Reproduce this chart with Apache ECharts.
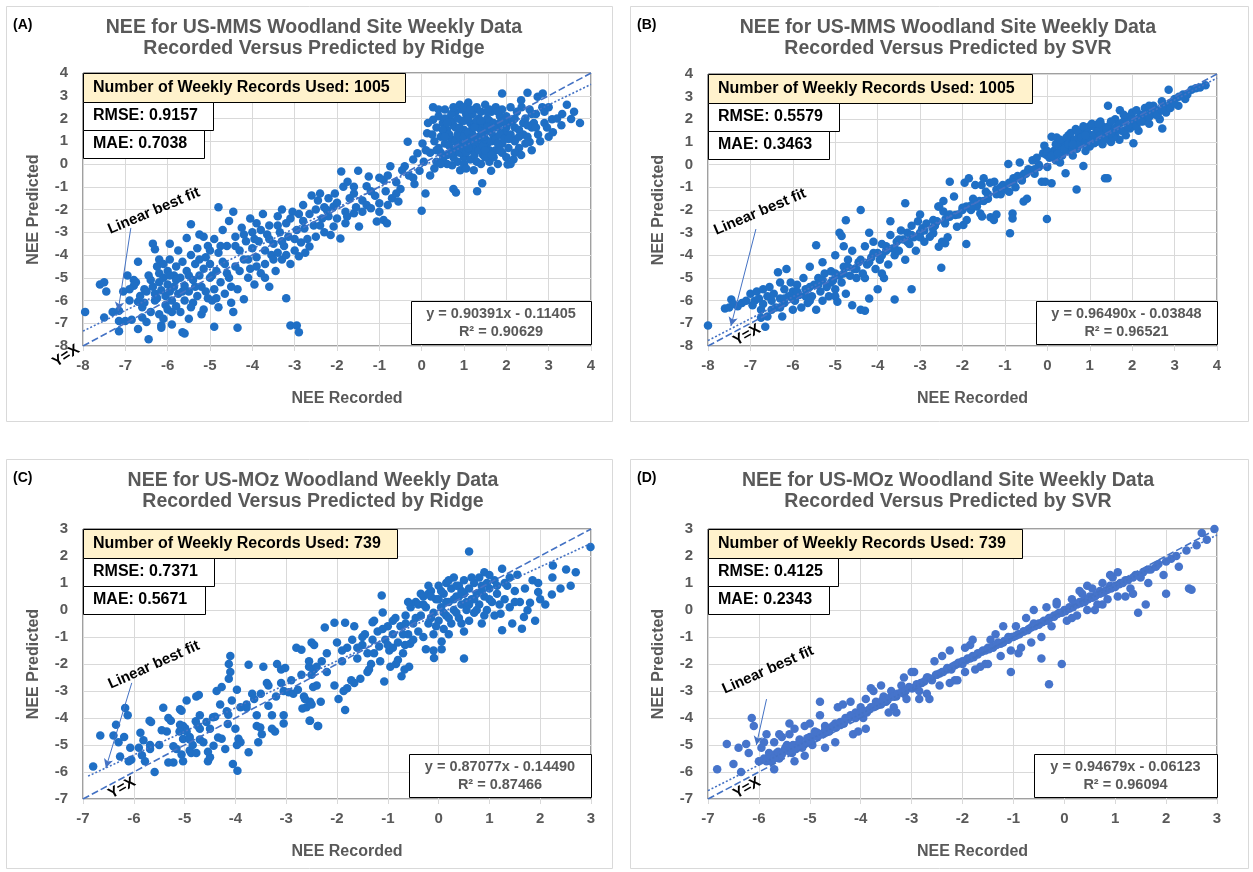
<!DOCTYPE html>
<html>
<head>
<meta charset="utf-8">
<title>NEE Recorded vs Predicted</title>
<script src="https://cdn.jsdelivr.net/npm/echarts@6/dist/echarts.min.js"></script>
<style>
  html, body { margin: 0; padding: 0; background: #fff; }
  #chart { width: 1253px; height: 872px; }
</style>
</head>
<body>
<div id="chart"></div>
<script>
// ---- data: [NEE recorded, NEE predicted] ----
const pointsA = [
  [-7.95,-6.5],[-7.6,-5.3],[-7.5,-5.2],[-7.45,-5.6],[-7.5,-6.75],[-7.3,-6.5],[-7.15,-6.45],[-7.15,-6.9],[-7.15,-7.35],[-7.05,-5.6],
  [-7.0,-6.9],[-6.95,-4.9],[-6.9,-6.0],[-6.85,-6.85],[-6.8,-5.1],[-6.75,-5.2],[-6.8,-5.35],[-6.7,-4.3],[-6.7,-6.05],[-6.7,-7.25],
  [-6.6,-6.75],[-6.55,-5.5],[-6.5,-5.6],[-6.45,-7.7],[-6.6,-6.3],[-6.55,-6.1],[-6.5,-6.95],[-6.35,-3.5],[-6.3,-3.75],[-6.4,-5.1],
  [-6.35,-5.4],[-6.3,-5.7],[-6.3,-6.0],[-6.25,-4.5],[-6.2,-4.2],[-6.2,-4.8],[-6.2,-5.2],[-6.2,-6.6],[-6.15,-7.1],[-6.15,-7.2],
  [-6.15,-5.55],[-6.1,-4.4],[-6.1,-5.0],[-6.05,-5.8],[-6.05,-6.2],[-6.0,-4.7],[-6.0,-5.3],[-6.0,-6.4],[-5.95,-3.5],[-5.95,-4.2],
  [-5.95,-5.6],[-5.9,-7.05],[-5.9,-6.0],[-5.85,-4.9],[-5.85,-5.4],[-5.8,-4.5],[-5.8,-6.25],[-5.75,-5.7],[-5.75,-3.8],[-5.7,-5.0],
  [-5.7,-6.5],[-5.65,-7.4],[-5.6,-7.45],[-5.65,-4.3],[-5.6,-5.35],[-5.6,-6.0],[-5.55,-3.25],[-5.55,-4.7],[-5.5,-5.6],[-5.5,-6.8],
  [-5.45,-2.65],[-5.45,-4.0],[-5.4,-5.1],[-5.4,-6.1],[-5.35,-4.4],[-5.3,-3.7],[-5.3,-5.8],[-5.25,-3.1],[-5.25,-4.9],[-5.2,-6.6],
  [-5.2,-5.4],[-5.15,-3.2],[-5.15,-6.4],[-5.15,-4.6],[-5.1,-4.1],[-5.05,-5.9],[-5.0,-3.8],[-5.0,-5.0],[-5.0,-4.4],[-4.95,-6.0],
  [-4.9,-7.15],[-4.9,-3.3],[-4.9,-5.5],[-4.85,-4.7],[-4.8,-1.9],[-4.8,-3.9],[-4.8,-6.3],[-4.75,-5.2],[-4.7,-4.3],[-4.7,-2.9],
  [-4.65,-5.7],[-4.6,-3.6],[-4.6,-4.8],[-4.55,-2.5],[-4.55,-5.0],[-4.5,-6.1],[-4.45,-2.1],[-4.45,-6.5],[-4.4,-3.2],[-4.4,-4.5],
  [-4.35,-7.2],[-4.35,-5.5],[-4.3,-3.8],[-4.25,-2.8],[-4.2,-5.95],[-4.2,-4.2],[-4.15,-3.4],[-4.1,-5.0],[-4.05,-2.4],[-4.05,-4.6],
  [-4.0,-3.0],[-4.0,-3.7],[-3.95,-5.3],[-3.9,-2.6],[-3.9,-4.1],[-3.85,-3.4],[-3.8,-4.8],[-3.75,-2.2],[-3.7,-3.8],[-3.7,-4.4],
  [-3.65,-3.1],[-3.6,-5.4],[-3.6,-2.7],[-3.55,-4.0],[-3.5,-3.5],[-3.45,-4.7],[-3.4,-2.3],[-3.4,-3.9],[-3.35,-3.0],[-3.3,-2.0],
  [-3.3,-4.2],[-3.25,-3.6],[-3.2,-5.9],[-3.2,-2.6],[-3.15,-3.2],[-3.1,-7.1],[-3.1,-4.4],[-3.05,-2.1],[-3.0,-3.8],[-2.95,-7.1],
  [-2.95,-2.9],[-2.9,-7.4],[-2.9,-4.05],[-2.85,-3.45],[-2.8,-1.8],[-2.8,-2.5],[-2.75,-3.9],[-2.77,-2.83],[-2.65,-2.2],[-2.65,-3.63],
  [-2.6,-1.38],[-2.55,-2.7],[-2.5,-3.2],[-2.45,-1.6],[-2.4,-1.3],[-2.35,-2.4],[-2.3,-1.9],[-2.3,-3.0],[-2.24,-2.02],[-2.2,-1.5],
  [-2.15,-3.12],[-2.08,-2.75],[-2.08,-1.87],[-2.05,-1.3],[-2.0,-2.4],[-1.92,-3.27],[-1.9,-0.33],[-1.85,-1.0],[-1.8,-2.1],[-1.76,-2.31],
  [-1.75,-0.78],[-1.7,-1.5],[-1.6,-1.3],[-1.6,-2.17],[-1.55,-1.9],[-1.5,-0.3],[-1.48,-2.75],[-1.4,-1.6],[-1.3,-0.98],[-1.3,-1.8],
  [-1.25,-0.55],[-1.2,-1.95],[-1.1,-1.4],[-1.06,-2.53],[-1.0,-1.73],[-1.0,-0.6],[-0.9,-2.46],[-0.9,-0.7],[-0.85,-1.2],[-0.82,-2.6],
  [-0.8,-1.8],[-0.74,-0.1],[-0.7,-1.5],[-0.6,-0.8],[-0.55,-1.65],[-0.5,-1.1],[-0.46,-0.27],[-0.33,0.98],[-0.3,-0.5],[-0.2,0.2],
  [-0.17,-0.88],[-0.1,0.47],[-0.05,-0.3],[0.0,-2.05],[0.02,0.9],[0.05,0.1],[0.09,-1.3],[0.13,1.35],[0.27,2.5],[0.27,1.95],
  [0.2,0.5],[0.3,1.0],[0.3,-0.2],[0.35,1.6],[0.4,0.7],[0.4,2.1],[0.45,1.2],[0.5,0.2],[0.5,1.8],[0.55,0.9],
  [0.55,2.4],[0.6,1.5],[0.6,0.4],[0.65,2.0],[0.7,1.1],[0.72,-0.05],[0.75,-1.1],[0.75,1.7],[0.8,0.6],[0.8,2.3],
  [0.81,-1.25],[0.85,1.3],[0.9,0.9],[0.91,-0.27],[0.9,2.6],[0.95,1.9],[1.0,0.3],[1.0,1.5],[1.05,2.2],[1.1,1.0],
  [1.1,2.7],[1.15,0.6],[1.15,1.8],[1.2,1.3],[1.23,-0.27],[1.25,2.4],[1.3,0.8],[1.31,-1.2],[1.35,1.6],[1.35,2.0],
  [1.4,1.1],[1.43,-0.85],[1.45,0.4],[1.5,2.6],[1.5,1.4],[1.55,0.9],[1.6,0.1],[1.6,1.9],[1.64,-0.3],[1.65,2.3],
  [1.7,1.2],[1.75,0.6],[1.8,1.6],[1.85,2.1],[1.9,3.1],[1.9,0.9],[1.95,1.4],[2.0,0.3],[2.03,-0.02],[2.05,1.8],
  [2.1,2.5],[2.15,1.1],[2.17,0.2],[2.2,1.6],[2.3,0.7],[2.36,2.5],[2.4,1.3],[2.45,2.0],[2.5,3.13],[2.55,0.97],
  [2.6,1.6],[2.7,2.2],[2.74,2.96],[2.75,1.3],[2.86,3.1],[2.9,1.8],[2.96,1.6],[3.08,1.97],[3.2,2.0],[3.32,2.2],
  [3.43,2.6],[3.53,1.98],[3.74,1.8],[0.35,0.1],[0.45,0.5],[0.5,1.5],[0.55,2.0],[0.6,0.0],[0.65,0.8],[0.65,1.3],
  [0.7,1.9],[0.7,2.2],[0.75,0.3],[0.8,1.0],[0.8,1.6],[0.85,0.1],[0.85,2.0],[0.9,0.5],[0.9,1.2],[0.95,0.7],
  [0.95,2.4],[1.0,0.0],[1.0,1.2],[1.0,1.9],[1.05,0.5],[1.05,0.9],[1.1,1.4],[1.1,2.0],[1.15,0.2],[1.15,1.1],
  [1.2,0.7],[1.2,1.6],[1.2,2.2],[1.25,0.4],[1.25,1.0],[1.3,1.9],[1.3,2.5],[1.35,0.6],[1.35,1.2],[1.4,0.0],
  [1.4,1.5],[1.4,2.3],[1.45,0.8],[1.45,1.8],[1.5,0.3],[1.5,1.1],[1.55,2.0],[1.55,1.6],[1.6,0.6],[1.6,2.4],
  [1.65,1.0],[1.65,1.4],[1.7,0.3],[1.7,1.8],[1.75,2.5],[1.75,1.1],[1.8,0.0],[1.8,0.9],[1.85,1.3],[1.85,1.8],
  [1.9,0.5],[1.9,2.4],[1.95,1.1],[2.0,1.6],[2.0,2.1],[2.05,0.7],[2.1,1.3],[2.15,1.9],[2.2,0.5],[2.2,1.0],
  [2.25,2.3],[2.3,1.5],[2.35,0.4],[2.4,1.8],[2.45,0.9],[2.5,1.2],[2.55,2.4],[2.6,0.6],[2.65,1.8],[2.8,1.0],
  [2.85,2.5],[3.0,1.2],[-6.9,-5.5],[-6.65,-5.8],[-6.45,-4.9],[-6.4,-6.5],[-6.25,-5.9],[-6.1,-6.8],[-5.95,-4.9],[-5.9,-6.5],
  [-5.8,-5.1],[-5.65,-5.6],[-5.5,-4.9],[-5.45,-6.3],[-5.35,-5.4],[-5.25,-4.2],[-5.1,-5.6],[-5.05,-3.6],[-4.95,-4.9],[-4.85,-5.9],
  [-4.75,-3.6],[-4.65,-4.4],[-4.5,-5.4],[-4.4,-3.6],[-4.3,-4.7],[-4.2,-3.1],[-4.1,-4.2],[-3.95,-3.3],[-3.9,-4.5],[-3.8,-2.9],
  [-3.7,-5.0],[-3.6,-3.3],[-3.5,-4.2],[-3.4,-2.7],[-3.3,-3.4],[-3.2,-4.0],[-3.1,-2.4],[-3.0,-3.3],[-2.9,-2.2],[-2.7,-3.3],
  [-2.5,-2.0],[-2.4,-2.7],[-2.2,-2.3],[-2.0,-1.7],[-1.8,-2.6],[-1.6,-1.0],[-1.4,-2.1],[-1.2,-1.2],[-1.0,-2.1],[-0.8,-0.5],
  [-0.6,-1.3],[-0.4,-0.1],[-0.2,-0.6],[0.1,0.6],[0.15,1.8],[0.2,-0.5],[0.25,1.3],[0.35,0.6],[0.4,2.4],[0.45,0.0],
  [0.55,1.2],[0.6,1.8],[0.7,0.5],[0.75,2.5],[0.85,0.8],[0.9,1.6],[1.0,2.5],[1.05,-0.2],[1.1,0.7],[1.15,2.4],
  [1.25,1.6],[1.3,0.1],[1.4,1.9],[1.45,1.2],[1.5,0.6],[1.55,2.3],[1.65,0.4],[1.7,1.6],[1.8,2.3],[1.85,0.6],
  [1.95,1.9],[2.05,1.1],[2.1,0.0],[2.2,2.0],[2.3,1.2],[2.35,2.8],[2.5,1.7],[2.6,2.2],[2.7,1.6],[2.9,2.3],
  [3.0,2.5],[3.1,1.4],[3.3,1.7],[3.6,2.3]
];

const pointsB = [
  [-8.0,-7.1],[-7.6,-6.35],[-7.5,-6.3],[-7.45,-5.95],[-7.4,-6.15],[-7.3,-6.25],[-7.2,-6.1],[-7.1,-6.0],[-7.0,-5.7],[-6.95,-6.2],
  [-6.9,-6.0],[-6.85,-5.6],[-6.8,-5.9],[-6.75,-6.75],[-6.75,-6.4],[-6.7,-5.5],[-6.7,-6.15],[-6.65,-7.15],[-6.6,-5.8],[-6.6,-6.7],
  [-6.55,-5.4],[-6.5,-6.0],[-6.45,-5.7],[-6.4,-6.3],[-6.35,-4.75],[-6.3,-5.2],[-6.3,-5.9],[-6.25,-6.7],[-6.2,-5.5],[-6.2,-6.1],
  [-6.15,-4.6],[-6.1,-5.8],[-6.05,-5.2],[-6.0,-6.4],[-6.0,-5.6],[-5.95,-6.0],[-5.9,-5.3],[-5.85,-5.75],[-5.8,-6.3],[-5.75,-5.0],
  [-5.7,-5.5],[-5.65,-6.1],[-5.6,-4.5],[-5.55,-5.8],[-5.5,-5.3],[-5.45,-3.55],[-5.45,-6.4],[-5.4,-5.0],[-5.35,-5.6],[-5.3,-4.3],
  [-5.3,-6.0],[-5.25,-4.8],[-5.2,-5.4],[-5.15,-5.8],[-5.1,-4.7],[-5.05,-5.1],[-5.0,-4.0],[-5.0,-5.5],[-4.95,-6.05],[-4.9,-3.0],
  [-4.9,-4.9],[-4.85,-3.15],[-4.85,-5.2],[-4.8,-4.5],[-4.75,-2.45],[-4.75,-5.7],[-4.7,-4.2],[-4.65,-4.9],[-4.6,-6.2],[-4.6,-3.8],
  [-4.55,-4.6],[-4.5,-5.0],[-4.45,-4.3],[-4.4,-2.0],[-4.4,-6.4],[-4.35,-4.8],[-4.3,-6.45],[-4.3,-3.6],[-4.25,-4.4],[-4.2,-5.9],
  [-4.15,-4.1],[-4.1,-3.4],[-4.05,-4.6],[-4.0,-5.5],[-4.0,-3.9],[-3.95,-4.2],[-3.9,-3.5],[-3.85,-5.0],[-3.8,-3.8],[-3.75,-4.4],
  [-3.7,-3.1],[-3.65,-3.7],[-3.6,-5.95],[-3.6,-4.0],[-3.55,-3.4],[-3.5,-3.8],[-3.45,-2.9],[-3.4,-3.3],[-3.35,-1.7],[-3.35,-4.2],
  [-3.3,-3.0],[-3.25,-3.5],[-3.2,-5.5],[-3.2,-2.7],[-3.15,-3.2],[-3.1,-3.8],[-3.05,-2.5],[-3.0,-3.0],[-2.95,-2.8],[-2.9,-3.4],
  [-2.85,-2.6],[-2.77,-3.18],[-2.69,-3.03],[-2.69,-2.44],[-2.65,-2.7],[-2.57,-1.85],[-2.56,-3.62],[-2.5,-4.55],[-2.48,-3.4],[-2.45,-2.07],
  [-2.41,-2.59],[-2.41,-3.47],[-2.35,-3.2],[-2.3,-0.75],[-2.3,-2.3],[-2.17,-2.22],[-2.13,-2.74],[-1.98,-2.66],[-1.95,-0.8],[-1.91,-3.5],
  [-1.91,-1.85],[-1.9,-2.44],[-1.85,-0.6],[-1.8,-2.0],[-1.75,-1.5],[-1.7,-0.9],[-1.7,-1.63],[-1.66,-1.85],[-1.58,-2.15],[-1.55,-0.9],
  [-1.54,-2.29],[-1.45,-1.2],[-1.4,-1.5],[-1.35,-0.8],[-1.34,-2.32],[-1.26,-2.44],[-1.25,-0.75],[-1.2,-1.1],[-1.1,-1.3],[-1.05,-0.9],
  [-1.0,-1.1],[-0.92,0.03],[-0.9,-0.8],[-0.88,-3.03],[-0.82,-2.15],[-0.82,-2.37],[-0.8,-0.6],[-0.75,-1.0],[-0.7,-0.5],[-0.65,0.1],
  [-0.6,-0.7],[-0.56,-1.63],[-0.55,-0.4],[-0.48,-1.5],[-0.45,-0.2],[-0.41,-0.23],[-0.35,0.2],[-0.3,-0.4],[-0.25,0.3],[-0.2,0.0],
  [-0.13,-0.75],[-0.1,0.5],[-0.07,0.84],[-0.05,-0.75],[-0.02,0.43],[-0.01,-2.4],[0.05,0.3],[0.1,1.23],[0.1,-0.82],[0.15,0.6],
  [0.22,1.2],[0.2,0.2],[0.3,0.8],[0.35,0.4],[0.43,-0.38],[0.4,1.0],[0.45,0.6],[0.5,1.3],[0.55,0.8],[0.6,0.4],
  [0.6,1.1],[0.67,1.57],[0.69,-1.1],[0.7,0.7],[0.75,1.3],[0.8,0.9],[0.85,-0.06],[0.85,1.5],[0.9,0.6],[0.95,1.1],
  [1.0,1.7],[1.0,0.8],[1.05,1.3],[1.1,0.95],[1.15,1.6],[1.2,1.1],[1.25,1.9],[1.3,0.9],[1.36,-0.6],[1.42,-0.6],
  [1.35,1.4],[1.43,2.6],[1.4,1.2],[1.45,1.7],[1.5,1.0],[1.55,1.5],[1.6,2.0],[1.6,1.3],[1.65,1.7],[1.71,2.4],
  [1.7,1.1],[1.75,1.5],[1.8,1.9],[1.85,1.3],[1.9,2.1],[1.95,1.6],[2.0,2.3],[2.03,0.95],[2.05,1.8],[2.1,2.0],
  [2.15,1.5],[2.2,2.2],[2.25,1.9],[2.3,2.5],[2.35,2.1],[2.4,1.8],[2.45,2.3],[2.5,2.6],[2.55,2.2],[2.6,2.4],
  [2.65,2.0],[2.71,1.6],[2.75,2.6],[2.8,2.3],[2.86,3.3],[2.9,2.7],[3.0,2.9],[3.09,2.6],[3.1,3.0],[3.2,3.1],
  [3.25,2.9],[3.4,3.3],[3.5,3.37],[3.6,3.4],[3.73,3.5],[0.0,0.6],[0.1,0.4],[0.2,0.9],[0.25,0.5],[0.3,1.1],
  [0.4,0.7],[0.45,1.2],[0.5,0.9],[0.55,1.4],[0.6,0.7],[0.65,1.1],[0.7,1.5],[0.75,0.9],[0.8,1.2],[0.85,1.7],
  [0.9,1.0],[0.95,1.4],[1.0,1.2],[1.05,1.8],[1.1,1.3],[1.15,1.0],[1.2,1.5],[1.25,1.3],[1.3,1.7],[1.35,1.1],
  [1.4,1.6],[1.5,1.9],[1.55,1.2],[1.6,1.6],[1.7,1.8],[1.8,1.5],[1.9,1.7],[2.0,2.0],[2.1,1.7],[2.2,1.9],
  [2.3,2.2],[2.4,2.1],[2.6,2.2],[2.7,2.4],[2.9,2.5],[-2.45,-1.6],[-2.55,-1.85],[-1.2,-2.2],[-1.6,-1.6],[-2.0,-2.0],
  [-6.5,-6.4],[-6.2,-5.9],[-5.9,-5.6],[-5.6,-5.4],[-5.3,-5.1],[-5.0,-4.8],[-4.7,-4.5],[-4.4,-4.2],[-4.1,-3.9],[-3.8,-3.6],
  [-3.5,-3.3],[-3.2,-3.1],[-2.9,-2.9],[-2.6,-2.5],[-2.3,-2.2],[-2.0,-1.9],[-1.7,-1.7],[-1.4,-1.3],[-1.1,-1.0],[-0.8,-0.8],
  [-0.5,-0.4],[-0.2,-0.1],[-6.3,-6.3],[-6.0,-5.9],[-5.7,-5.8],[-5.4,-5.3],[-5.1,-5.2],[-4.8,-4.8],[-4.5,-4.6],[-4.2,-4.3],
  [-3.9,-4.0],[-3.6,-3.7],[-3.3,-3.4],[-3.0,-3.2],[-2.7,-2.8],[-2.4,-2.4],[-2.1,-2.2],[-1.8,-1.8],[-1.5,-1.6],[-1.2,-1.3],
  [-0.9,-1.2],[-0.6,-0.6],[-0.3,-0.2],[0.0,-0.1],[-5.6,-6.0],[-5.0,-5.8],[-4.3,-5.0],[-3.9,-4.8],[-4.8,-3.6],[-4.2,-3.0],
  [-3.7,-2.5],[-3.0,-2.2],[-2.2,-1.4],[-1.5,-0.6],[0.3,0.1],[0.6,0.9],[0.9,1.3],[1.2,1.8],[1.5,1.4],[1.8,2.2],
  [2.1,2.4],[2.4,2.6],[2.7,2.8],[3.0,2.7],[3.3,3.1]
];

const pointsC = [
  [-6.8,-5.8],[-6.66,-4.65],[-6.4,-4.65],[-6.35,-4.25],[-6.17,-3.63],[-6.12,-3.9],[-6.19,-4.7],[-6.27,-5.43],[-6.07,-5.1],[-6.1,-5.6],
  [-6.05,-5.55],[-5.87,-4.55],[-5.81,-4.82],[-5.84,-5.38],[-5.78,-5.6],[-5.59,-6.0],[-5.69,-4.1],[-5.66,-4.15],[-5.68,-5.0],[-5.68,-5.15],
  [-5.42,-3.62],[-5.32,-4.0],[-5.35,-4.5],[-5.45,-4.45],[-5.22,-5.65],[-5.32,-5.65],[-5.27,-4.1],[-5.16,-5.15],[-5.22,-5.05],[-5.06,-3.73],
  [-5.09,-3.68],[-5.09,-4.25],[-5.03,-4.3],[-5.03,-4.78],[-4.96,-3.35],[-4.99,-4.38],[-4.96,-4.5],[-4.9,-4.7],[-5.06,-5.35],[-5.03,-5.6],
  [-4.9,-4.8],[-4.84,-5.0],[-4.9,-5.2],[-4.87,-5.3],[-4.77,-3.2],[-4.72,-3.15],[-4.78,-4.12],[-4.74,-4.3],[-4.7,-4.4],[-4.7,-4.8],
  [-4.63,-4.9],[-4.77,-5.3],[-4.54,-5.6],[-4.5,-5.45],[-4.54,-5.25],[-4.57,-4.15],[-4.5,-4.4],[-4.44,-3.97],[-4.4,-3.95],[-4.37,-3.0],
  [-4.27,-2.85],[-4.34,-4.72],[-4.43,-5.03],[-4.27,-4.77],[-4.2,-5.15],[-4.15,-4.22],[-4.14,-3.88],[-4.17,-3.75],[-4.1,-1.7],[-4.13,-2.0],
  [-4.1,-2.3],[-4.13,-2.55],[-4.07,-3.35],[-4.05,-5.7],[-3.96,-5.95],[-3.97,-2.95],[-4.0,-4.4],[-3.94,-4.77],[-3.9,-4.9],[-3.97,-5.0],
  [-3.78,-3.5],[-3.78,-3.62],[-3.74,-2.03],[-3.74,-5.27],[-3.67,-3.1],[-3.63,-3.3],[-3.58,-3.9],[-3.58,-4.3],[-3.51,-4.35],[-3.48,-4.6],
  [-3.55,-4.9],[-3.45,-2.1],[-3.38,-2.7],[-3.35,-2.8],[-3.35,-3.55],[-3.28,-3.9],[-3.28,-4.4],[-3.22,-4.5],[-3.18,-2.0],[-3.1,-2.2],
  [-3.05,-4.2],[-3.02,-2.15],[-3.05,-3.0],[-2.95,-3.05],[-3.05,-3.9],[-2.86,-3.1],[-2.77,-2.95],[-2.8,-1.4],[-2.7,-1.47],[-2.63,-3.3],
  [-2.6,-3.6],[-2.53,-3.4],[-2.53,-4.1],[-2.38,-4.3],[-2.5,-1.2],[-2.45,-1.3],[-2.55,-2.1],[-2.45,-2.2],[-2.4,-2.1],[0.5,-1.8],
  [-0.09,-1.78],[-0.25,-1.45],[0.06,-1.45],[0.06,-1.17],[-0.58,-2.1],[-0.67,-2.2],[-0.73,-2.45],[-0.84,-2.0],[-0.8,-1.85],[-1.07,-2.65],
  [-1.4,-2.3],[-1.37,-2.2],[-1.54,-2.55],[-1.66,-2.7],[-1.72,-2.6],[-1.8,-2.9],[-1.87,-3.0],[-2.05,-2.8],[-1.97,-3.3],[-1.84,-3.7],
  [-2.5,-3.5],[-2.54,-4.1],[-2.37,-4.3],[-2.32,-3.4],[-2.65,-3.2],[-2.68,-3.65],[-2.4,-2.8],[-2.47,-2.85],[-2.5,-2.4],[-2.55,-1.9],
  [-1.33,-2.0],[-1.27,-1.6],[-1.17,-1.35],[-0.97,-1.5],[-0.9,-1.4],[-0.56,-1.25],[-0.66,-1.3],[-0.1,-1.5],[-1.12,0.54],[-1.1,-0.09],
  [-2.05,-0.47],[-2.24,-0.65],[-1.84,-0.47],[-1.66,-0.6],[-1.3,-0.45],[-1.27,-0.4],[-2.2,-1.6],[-2.0,-1.2],[-1.9,-1.9],[-1.8,-1.4],
  [-1.7,-1.1],[-1.6,-1.8],[-1.5,-1.3],[-1.45,-0.9],[-1.4,-1.6],[-1.3,-1.1],[-1.2,-0.8],[-1.15,-1.9],[-1.05,-1.1],[-1.0,-0.6],
  [-0.95,-2.1],[-0.9,-0.9],[-0.85,-0.3],[-0.8,-1.2],[-0.75,-0.6],[-0.7,-1.6],[-0.65,-0.2],[-0.6,-0.9],[-0.55,0.1],[-0.5,-0.5],
  [-0.5,-1.1],[-0.45,0.3],[-0.4,-0.8],[-0.35,-0.2],[-0.3,0.5],[-0.3,-1.0],[-0.25,0.1],[-0.2,-0.5],[-0.15,0.7],[-0.1,-0.1],
  [-0.1,-0.9],[-0.05,0.4],[0.0,-0.4],[0.0,0.9],[0.05,0.1],[0.1,-0.7],[0.1,0.6],[0.15,1.0],[0.15,-0.2],[0.2,0.3],
  [0.25,-0.5],[0.25,0.8],[0.3,0.0],[0.3,1.2],[0.35,0.5],[0.4,-0.3],[0.4,0.9],[0.45,0.2],[0.5,-0.8],[0.5,0.6],
  [0.5,1.1],[0.55,0.0],[0.6,2.17],[0.6,0.8],[0.6,-0.4],[0.65,0.4],[0.7,1.0],[0.7,-0.1],[0.75,0.6],[0.8,0.2],
  [0.8,1.2],[0.85,-0.5],[0.9,1.4],[0.9,0.5],[0.95,0.0],[1.0,0.8],[1.05,0.3],[1.1,1.1],[1.1,-0.2],[1.15,0.6],
  [1.22,-0.14],[1.25,1.53],[1.25,-0.75],[1.3,0.4],[1.35,0.9],[1.4,0.1],[1.5,0.7],[1.55,1.31],[1.6,0.3],[1.64,-0.69],
  [1.68,-0.26],[1.75,-0.01],[1.8,0.27],[1.85,1.1],[1.96,1.0],[1.96,0.67],[2.0,0.4],[2.1,0.2],[2.23,0.57],[2.24,1.2],
  [2.25,1.65],[2.51,1.5],[2.99,2.33],[2.7,1.4],[2.6,0.9],[2.4,0.8],[1.9,-0.4],[1.45,-0.5],[-0.2,0.6],[0.2,-0.9],
  [-0.4,0.2],[0.0,0.4],[0.3,0.4],[0.6,0.2],[0.45,0.7],[0.15,0.3],[-0.15,-0.3],[0.85,0.7],[0.7,0.4],[0.35,-0.1],
  [-0.6,0.3],[-0.45,-0.3],[-0.3,0.2],[-0.2,0.9],[-0.05,-0.6],[0.05,0.7],[0.2,1.1],[0.2,-0.3],[0.35,0.9],[0.45,-0.5],
  [0.55,0.3],[0.65,1.2],[0.75,0.0],[0.85,0.9],[1.0,0.4],[1.0,1.3],[1.15,0.9],[1.2,0.2],[0.9,-0.2],[0.4,0.5],
  [0.1,-0.1],[-0.15,0.5],[-0.35,0.6],[-0.65,-0.5],[-0.9,-0.4],[-1.1,-0.7],[-1.5,-1.0],[-1.9,-1.5],[-2.3,-1.9],[-2.7,-2.4],
  [-3.1,-2.7],[-3.5,-3.1],[-3.9,-3.6],[-4.3,-3.5],[-4.7,-3.9],[-5.1,-4.5],[-5.5,-5.0],[-5.9,-5.1],[-6.3,-4.9],[-3.2,-3.2],
  [-2.9,-2.6],[-2.2,-2.3],[-1.6,-1.4],[-1.0,-1.3],[-0.7,-0.9],[1.3,1.0],[1.5,0.3],[1.7,0.8],[1.4,1.2],[0.95,1.0]
];

const pointsD = [
  [-6.82,-5.9],[-6.63,-4.96],[-6.5,-5.7],[-6.4,-5.1],[-6.35,-6.0],[-6.25,-4.96],[-6.2,-5.3],[-6.14,-4.0],[-6.1,-4.3],[-6.0,-5.6],
  [-5.95,-5.1],[-5.9,-5.5],[-5.85,-4.6],[-5.8,-5.3],[-5.75,-5.6],[-5.7,-4.9],[-5.65,-5.3],[-5.6,-5.5],[-5.55,-4.7],[-5.5,-5.2],
  [-5.45,-5.0],[-5.4,-4.6],[-5.35,-5.3],[-5.3,-4.4],[-5.25,-5.0],[-5.2,-4.8],[-5.15,-5.1],[-5.1,-4.3],[-5.05,-4.9],[-5.0,-4.7],
  [-4.95,-5.0],[-4.9,-4.5],[-4.85,-4.7],[-4.8,-3.4],[-4.75,-4.6],[-4.7,-4.3],[-4.65,-4.5],[-4.6,-4.4],[-4.5,-4.2],[-4.45,-3.6],
  [-4.4,-4.25],[-4.3,-4.0],[-4.2,-3.9],[-4.15,-4.6],[-4.1,-3.8],[-4.0,-3.6],[-3.95,-4.0],[-3.9,-3.3],[-3.85,-3.7],[-3.8,-2.9],
  [-3.75,-3.6],[-3.7,-3.4],[-3.6,-3.5],[-3.55,-3.2],[-3.5,-3.3],[-3.4,-3.0],[-3.35,-3.6],[-3.3,-3.2],[-3.2,-2.8],[-3.15,-3.1],
  [-3.1,-3.3],[-3.0,-2.9],[-2.95,-2.3],[-2.9,-2.8],[-2.85,-3.0],[-2.8,-2.7],[-2.7,-2.5],[-2.65,-3.3],[-2.6,-2.6],[-2.5,-2.4],
  [-2.45,-2.8],[-2.4,-2.3],[-2.3,-2.2],[-2.25,-1.5],[-2.2,-2.1],[-2.15,-2.6],[-2.1,-2.0],[-2.0,-1.9],[-1.95,-2.3],[-1.9,-1.8],
  [-1.85,-1.3],[-1.8,-1.7],[-1.75,-2.2],[-1.7,-1.6],[-1.6,-1.5],[-1.55,-2.0],[-1.5,-1.4],[-1.45,-1.1],[-1.4,-1.4],[-1.3,-1.2],
  [-1.25,-1.7],[-1.2,-1.2],[-1.1,-1.0],[-1.05,-2.3],[-1.0,-1.0],[-0.95,-0.6],[-0.9,-0.9],[-0.85,-1.4],[-0.8,-0.8],[-0.7,-0.7],
  [-0.65,-1.2],[-0.6,-0.5],[-0.5,-0.5],[-0.45,-1.8],[-0.4,-0.4],[-0.35,0.1],[-0.3,-0.3],[-0.3,-2.75],[-0.25,-0.6],[-0.2,-0.2],
  [-0.15,0.2],[-0.1,-0.1],[-0.05,-2.0],[0.0,0.0],[0.05,-0.4],[0.1,0.1],[0.15,0.4],[0.2,0.2],[0.25,-0.2],[0.3,0.3],
  [0.35,0.6],[0.4,0.4],[0.45,0.0],[0.5,0.5],[0.55,0.8],[0.6,0.5],[0.65,0.2],[0.7,0.7],[0.75,1.0],[0.8,0.7],
  [0.85,0.4],[0.9,0.9],[0.95,1.2],[1.0,0.9],[1.05,0.5],[1.1,1.0],[1.2,1.1],[1.3,0.8],[1.4,1.3],[1.45,-0.1],
  [1.5,1.2],[1.6,0.2],[1.65,1.5],[1.8,1.6],[2.0,0.6],[2.1,1.9],[2.45,0.8],[2.5,0.75],[2.7,2.85],[2.95,3.0],
  [-5.85,-5.6],[-5.78,-5.4],[-5.7,-5.5],[-5.62,-5.25],[-5.55,-5.35],[-5.48,-5.1],[-5.4,-5.25],[-5.33,-5.0],[-5.27,-5.15],[-5.2,-4.9],
  [-5.12,-5.0],[-5.05,-4.75],[-4.98,-4.85],[-4.92,-4.65],[-4.85,-4.55],[-4.78,-4.6],[-4.7,-4.45],[-4.62,-4.5],[-4.55,-4.3],[-4.48,-4.35],
  [-4.4,-4.15],[-4.33,-4.2],[-4.25,-4.05],[-4.18,-3.95],[-4.1,-4.0],[-4.03,-3.85],[-3.95,-3.75],[-3.88,-3.8],[-3.8,-3.6],[-3.72,-3.55],
  [-3.65,-3.5],[-3.58,-3.35],[-3.5,-3.4],[-3.43,-3.25],[-3.35,-3.2],[-3.28,-3.1],[-3.2,-3.05],[-3.12,-3.0],[-3.05,-2.85],[-2.98,-2.9],
  [-2.9,-2.75],[-2.82,-2.7],[-2.75,-2.65],[-2.68,-2.5],[-2.6,-2.55],[-2.52,-2.4],[-2.45,-2.35],[-2.38,-2.3],[-2.3,-2.15],[-2.22,-2.2],
  [-2.15,-2.05],[-2.08,-1.95],[-2.0,-2.0],[-1.92,-1.85],[-1.85,-1.8],[-1.78,-1.75],[-1.7,-1.65],[-1.62,-1.55],[-1.55,-1.5],[-1.48,-1.45],
  [-1.4,-1.35],[-1.33,-1.3],[-1.25,-1.25],[-1.18,-1.15],[-1.1,-1.1],[-1.03,-1.0],[-0.95,-0.95],[-0.88,-0.9],[-0.8,-0.8],[-0.72,-0.75],
  [-0.65,-0.65],[-0.58,-0.6],[-0.5,-0.55],[-0.43,-0.45],[-0.35,-0.4],[-0.28,-0.3],[-0.2,-0.25],[-0.13,-0.15],[-0.05,-0.1],[0.02,-0.05],
  [0.1,0.05],[0.17,0.1],[0.25,0.2],[0.32,0.25],[0.4,0.3],[0.47,0.4],[0.55,0.45],[0.62,0.55],[0.7,0.6],[0.77,0.65],
  [0.85,0.75],[0.92,0.8],[1.0,0.85],[1.08,0.95],[1.15,1.0],[1.25,1.1],[1.35,1.2],[1.45,1.3],[1.55,1.4],[1.7,1.5],
  [1.85,1.7],[2.0,1.8],[2.2,2.0],[2.4,2.2],[2.6,2.4],[2.8,2.6],[-5.9,-4.9],[-5.6,-4.6],[-5.3,-5.6],[-5.0,-4.2],
  [-4.7,-5.1],[-4.35,-3.5],[-4.05,-4.5],[-3.75,-3.0],[-3.45,-3.8],[-3.15,-2.5],[-2.85,-3.3],[-2.55,-1.9],[-2.25,-2.7],[-1.95,-1.4],
  [-1.65,-2.1],[-1.35,-0.9],[-1.05,-1.5],[-0.75,-0.3],[-0.45,-1.0],[-0.15,0.3],[0.15,-0.3],[0.45,0.9],[0.75,0.2],[1.05,1.4],
  [1.35,0.6],[1.65,1.0],[1.95,1.3],[2.25,1.6],[0.3,0.7],[0.6,0.0],[0.9,1.3],[1.2,0.5],[-0.6,0.0],[-0.9,-1.6],
  [-1.2,-0.6],[-1.5,-2.0],[-1.8,-1.1],[-2.1,-2.6],[-2.4,-1.7],[-2.7,-3.1],[-3.0,-2.3],[-3.3,-3.8],[-3.6,-2.8],[-3.9,-4.4],
  [-4.2,-3.4],[-4.5,-4.9],[-4.8,-3.9],[-5.1,-5.4],[-5.4,-4.2],[-5.7,-5.9]
];

const panelTags = ['(A)', '(B)', '(C)', '(D)'];
const titleTop = [
  'NEE for US-MMS Woodland Site Weekly Data',
  'NEE for US-MMS Woodland Site Weekly Data',
  'NEE for US-MOz Woodland Weekly Data',
  'NEE for US-MOz Woodland Site Weekly Data'
];
const titleBottom = [
  'Recorded Versus Predicted by Ridge',
  'Recorded Versus Predicted by SVR',
  'Recorded Versus Predicted by Ridge',
  'Recorded Versus Predicted by SVR'
];
const recordsUsed = [1005, 1005, 739, 739];
const rmseText = ['0.9157', '0.5579', '0.7371', '0.4125'];
const maeText = ['0.7038', '0.3463', '0.5671', '0.2343'];
const fitSlope = [0.90391, 0.96490, 0.87077, 0.94679];
const fitIntercept = [-0.11405, -0.03848, -0.14490, -0.06123];
const rSquaredText = ['0.90629', '0.96521', '0.87466', '0.96094'];
const axisMin = [-8, -8, -7, -7];
const axisMax = [4, 4, 3, 3];
// arrow from the "Linear best fit" note down to the fit line, in data units
const arrowFrom = [[-6.87, -2.81], [-6.87, -2.84], [-6.04, -2.70], [-5.85, -3.3]];
const arrowTo = [[-7.17, -6.46], [-7.46, -7.12], [-6.55, -5.85], [-6.05, -5.0]];
const allPoints = [pointsA, pointsB, pointsC, pointsD];

// ---- layout (pixels) ----
const FONT = '"Liberation Sans", Arial, Helvetica, sans-serif';
const GRAY = '#595959';
const dotColor = ['#1f6fc5', '#1f6fc5', '#1f6fc5', '#4674cb'];
const BLUE = '#4472c4';

const frames = [[6, 6, 606, 415], [630, 6, 618, 415], [6, 459, 606, 409], [630, 459, 618, 409]];
const plots = [[83, 73, 508, 273], [708, 74, 509, 272], [83, 529, 508, 270], [708, 529, 509, 270]];
const titleCenter = [314, 948, 313, 948];
const countBoxW = [322, 324, 314, 314];
const rmseBoxW = [130, 131, 131, 130];
const maeBoxW = [121, 121, 122, 121];
const eqBoxW = [180, 181, 182, 183];
const fitNote = [[154, 211, 0.40], [760, 212, 0.40], [154, 665, 0.42], [768, 670, 0.42]];
const yxNote = [[66, 356, 0.58], [747, 335, 0.52], [122, 788, 0.52], [747, 788, 0.52]];

const grids = [], xAxes = [], yAxes = [], series = [], graphics = [];

function txt(x, y, text, font, color, align, extra) {
  return Object.assign({
    type: 'text', x: x, y: y, z: 100,
    style: {
      text: text, font: font, fill: color,
      align: align || 'left', textAlign: align || 'left',
      verticalAlign: 'middle', textVerticalAlign: 'middle'
    }
  }, extra || {});
}

function box(x, y, w, h, fill) {
  return {
    type: 'rect', z: 99,
    shape: { x: x + 0.5, y: y + 0.5, width: w, height: h },
    style: { fill: fill, stroke: '#000', lineWidth: 1 }
  };
}

for (let i = 0; i < 4; i++) {
  const [px, py, pw, ph] = plots[i];
  const [fx, fy, fw, fh] = frames[i];
  const lo = axisMin[i], hi = axisMax[i];

  grids.push({ left: px, top: py, width: pw, height: ph, show: true, borderColor: '#404040', borderWidth: 1, backgroundColor: 'transparent' });

  const labelStyle = { color: GRAY, fontFamily: FONT, fontWeight: 'bold', fontSize: 15 };
  xAxes.push({
    gridIndex: i, type: 'value', min: lo, max: hi, interval: 1,
    name: 'NEE Recorded', nameLocation: 'middle', nameGap: 45,
    nameTextStyle: { color: GRAY, fontFamily: FONT, fontWeight: 'bold', fontSize: 16, padding: [0, 0, 0, 20] },
    axisLine: { show: true, onZero: false, lineStyle: { color: '#d9d9d9', width: 1 } },
    axisTick: { show: true, length: 5, lineStyle: { color: '#d9d9d9' } },
    axisLabel: Object.assign({ margin: 12 }, labelStyle),
    splitLine: { show: true, lineStyle: { color: '#d9d9d9', width: 1 } }
  });
  yAxes.push({
    gridIndex: i, type: 'value', min: lo, max: hi, interval: 1,
    name: 'NEE Predicted', nameLocation: 'middle', nameGap: 41,
    nameTextStyle: { color: GRAY, fontFamily: FONT, fontWeight: 'bold', fontSize: 16 },
    axisLine: { show: true, onZero: false, lineStyle: { color: '#d9d9d9', width: 1 } },
    axisTick: { show: false },
    axisLabel: Object.assign({ margin: 15 }, labelStyle),
    splitLine: { show: true, lineStyle: { color: '#d9d9d9', width: 1 } }
  });

  series.push({
    type: 'scatter', xAxisIndex: i, yAxisIndex: i, data: allPoints[i],
    symbol: 'circle', symbolSize: 8.5, itemStyle: { color: dotColor[i], opacity: 1 }, z: 3, silent: true
  });
  // Y = X reference line
  series.push({
    type: 'line', xAxisIndex: i, yAxisIndex: i, data: [[lo, lo], [hi, hi]],
    symbol: 'none', silent: true, z: 4,
    lineStyle: { color: BLUE, width: 1.6, type: [7, 3] },
    markLine: {
      silent: true, symbol: ['none', 'arrow'], symbolSize: [7, 9], label: { show: false },
      lineStyle: { color: BLUE, width: 1, type: 'solid' },
      data: [[{ coord: arrowFrom[i] }, { coord: arrowTo[i] }]]
    }
  });
  // linear best fit (from the printed equation)
  const fitLo = i === 2 ? -6.9 : lo;
  series.push({
    type: 'line', xAxisIndex: i, yAxisIndex: i,
    data: [[fitLo, fitSlope[i] * fitLo + fitIntercept[i]], [hi, fitSlope[i] * hi + fitIntercept[i]]],
    symbol: 'none', silent: true, z: 4,
    lineStyle: { color: BLUE, width: 1.6, type: [2, 2] }
  });

  // panel frame, tag and title
  graphics.push({ type: 'rect', z: 1, shape: { x: fx + 0.5, y: fy + 0.5, width: fw, height: fh }, style: { fill: 'none', stroke: '#d9d9d9', lineWidth: 1 } });
  graphics.push(txt(fx + 7, fy + 19, panelTags[i], 'bold 14px ' + FONT, '#000', 'left'));
  graphics.push(txt(titleCenter[i], fy + 22, titleTop[i], 'bold 19.5px ' + FONT, GRAY, 'center'));
  graphics.push(txt(titleCenter[i], fy + 43, titleBottom[i], 'bold 19.5px ' + FONT, GRAY, 'center'));

  // stat boxes
  graphics.push(box(px, py, countBoxW[i], 29, '#fff2cc'));
  graphics.push(txt(px + 10, py + 15, 'Number of Weekly Records Used: ' + recordsUsed[i], 'bold 16px ' + FONT, '#000', 'left'));
  graphics.push(box(px, py + 29, rmseBoxW[i], 28, '#fff'));
  graphics.push(txt(px + 10, py + 43, 'RMSE: ' + rmseText[i], 'bold 16px ' + FONT, '#000', 'left'));
  graphics.push(box(px, py + 57, maeBoxW[i], 28, '#fff'));
  graphics.push(txt(px + 10, py + 71, 'MAE: ' + maeText[i], 'bold 16px ' + FONT, '#000', 'left'));

  // equation box
  const ex = px + pw - eqBoxW[i], ey = py + ph - 45;
  const sign = fitIntercept[i] < 0 ? ' - ' : ' + ';
  graphics.push(box(ex, ey, eqBoxW[i], 43, '#fff'));
  graphics.push(txt(ex + eqBoxW[i] / 2, ey + 13, 'y = ' + fitSlope[i].toFixed(5) + 'x' + sign + Math.abs(fitIntercept[i]).toFixed(5), 'bold 14.5px ' + FONT, GRAY, 'center'));
  graphics.push(txt(ex + eqBoxW[i] / 2, ey + 31, 'R² = ' + rSquaredText[i], 'bold 14.5px ' + FONT, GRAY, 'center'));

  // notes
  graphics.push(txt(fitNote[i][0], fitNote[i][1], 'Linear best fit', 'bold 15px ' + FONT, '#000', 'center', { rotation: fitNote[i][2] }));
  graphics.push(txt(yxNote[i][0], yxNote[i][1], 'Y=X', 'bold 15px ' + FONT, '#000', 'center', { rotation: yxNote[i][2] }));
}

const chart = echarts.init(document.getElementById('chart'), null, { renderer: 'canvas' });
chart.setOption({
  backgroundColor: '#fff',
  animation: false,
  textStyle: { fontFamily: FONT },
  grid: grids,
  xAxis: xAxes,
  yAxis: yAxes,
  series: series,
  graphic: graphics
});
</script>
</body>
</html>
